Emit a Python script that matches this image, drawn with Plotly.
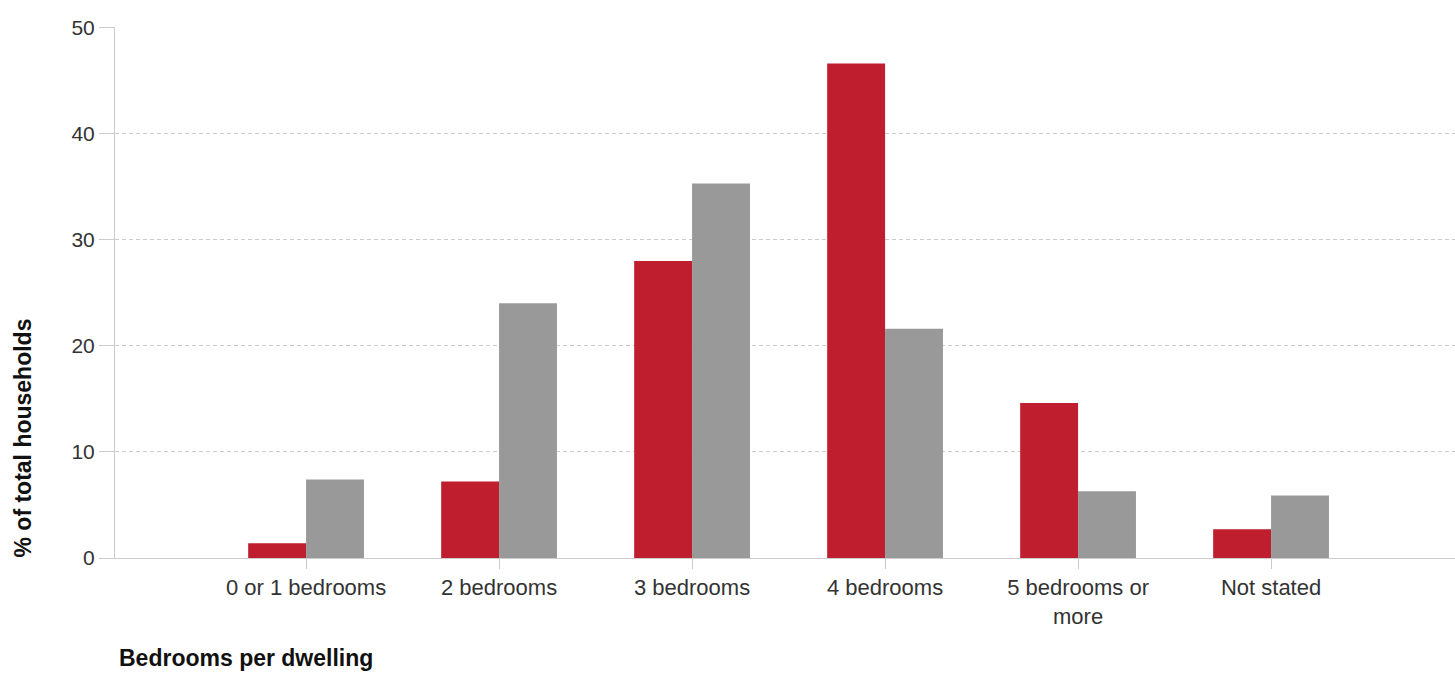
import plotly.graph_objects as go

categories = ["0 or 1 bedrooms", "2 bedrooms", "3 bedrooms", "4 bedrooms", "5 bedrooms or<br>more", "Not stated"]
series_a = [1.4, 7.2, 28.0, 46.6, 14.6, 2.7]
series_b = [7.4, 24.0, 35.3, 21.6, 6.3, 5.9]
y_ticks = [0, 10, 20, 30, 40, 50]

fig = go.Figure()
fig.add_trace(go.Bar(x=categories, y=series_a, marker=dict(color="#BE1E2D", line=dict(width=0)), name="A"))
fig.add_trace(go.Bar(x=categories, y=series_b, marker=dict(color="#999999", line=dict(width=0)), name="B"))

font = "Liberation Sans, Arial, sans-serif"
fig.update_layout(
    width=1455, height=673,
    margin=dict(l=115, r=0, t=27, b=115),
    paper_bgcolor="white", plot_bgcolor="white",
    barmode="group", bargap=0.4, bargroupgap=0,
    showlegend=False,
    font=dict(family=font, size=21, color="#333"),
    xaxis=dict(
        type="category", range=[-0.99, 5.953],
        showgrid=False, showline=True, linecolor="#cccccc", linewidth=1,
        ticks="outside", ticklen=10, tickcolor="#cccccc",
        ticklabelstandoff=0,
        tickfont=dict(family=font, size=22, color="#333"),
    ),
    yaxis=dict(
        range=[0, 50.05], tickvals=y_ticks,
        showgrid=True, gridcolor="#cccccc", griddash="4px,3px", gridwidth=1,
        showline=True, linecolor="#cccccc", linewidth=1,
        ticks="outside", ticklen=15, tickcolor="#cccccc",
        tickfont=dict(family=font, size=21, color="#333"),
        zeroline=False,
    ),
)
fig.add_annotation(text="<b>% of total households</b>", xref="paper", yref="paper",
                   x=0.0, y=0.0, xanchor="center", yanchor="bottom", xshift=-93, yshift=-2,
                   textangle=-90, showarrow=False, font=dict(family=font, size=23, color="#111"))
fig.add_annotation(text="<b>Bedrooms per dwelling</b>", xref="paper", yref="paper",
                   x=0.0, y=0.0, xanchor="left", yanchor="middle", xshift=2, yshift=-100,
                   showarrow=False, font=dict(family=font, size=23, color="#111"))
fig.write_html("out.html", config={"displayModeBar": False},
               post_script="document.body.style.margin='0';document.body.style.overflow='hidden';")
